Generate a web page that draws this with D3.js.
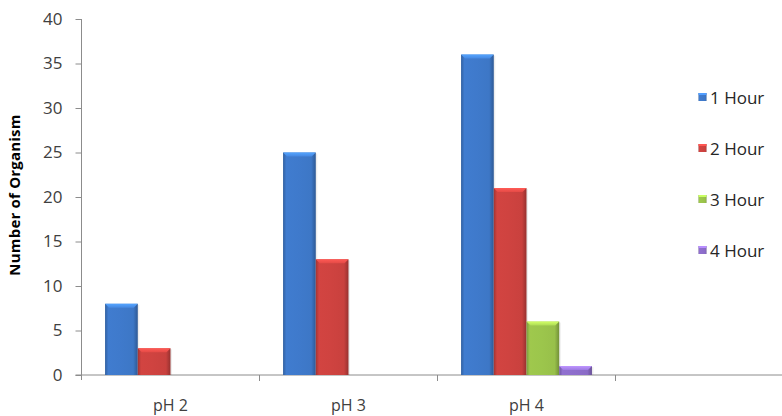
<!DOCTYPE html>
<html>
<head>
<meta charset="utf-8">
<script src="https://cdn.jsdelivr.net/npm/d3@7"></script>
<style>
  html, body { margin: 0; padding: 0; background: #fff; }
  svg { display: block; font-family: "Open Sans", Lato, sans-serif; }
</style>
</head>
<body>
<svg id="chart" width="782" height="416"></svg>
<script>
// Counts of organisms per pH level after each exposure time
const categories = ["pH 2", "pH 3", "pH 4", ""];
const seriesNames = ["1 Hour", "2 Hour", "3 Hour", "4 Hour"];
const hour1 = [8, 25, 36, null];
const hour2 = [3, 13, 21, null];
const hour3 = [0, 0, 6, null];
const hour4 = [0, 0, 1, null];
const yTicks = [0, 5, 10, 15, 20, 25, 30, 35, 40];
const colors = ["#3d77c6", "#c9413e", "#98c04a", "#8a6bc6"];

const series = [hour1, hour2, hour3, hour4];

const svg = d3.select("#chart");
const margin = { left: 81.5, top: 19, bottom: 375 };
const catWidth = 178;

const x = d3.scaleBand()
  .domain(categories)
  .range([margin.left, margin.left + catWidth * categories.length])
  .paddingInner(0)
  .paddingOuter(0);

const xInner = d3.scaleBand()
  .domain(seriesNames)
  .range([0, x.bandwidth()])
  .paddingOuter(0.72)
  .paddingInner(0);

const y = d3.scaleLinear().domain([0, 40]).range([margin.bottom, margin.top]);

// Gradients giving each bar its rounded, bevelled look
const defs = svg.append("defs");
colors.forEach((c, i) => {
  const base = d3.color(c);
  const g = defs.append("linearGradient").attr("id", "bar" + i)
    .attr("x1", "0").attr("x2", "1").attr("y1", "0").attr("y2", "0");
  g.append("stop").attr("offset", "0%").attr("stop-color", base.darker(0.6));
  g.append("stop").attr("offset", "10%").attr("stop-color", base.brighter(0.12));
  g.append("stop").attr("offset", "45%").attr("stop-color", base.brighter(0.08));
  g.append("stop").attr("offset", "86%").attr("stop-color", base);
  g.append("stop").attr("offset", "100%").attr("stop-color", base.darker(0.8));
  const t = defs.append("linearGradient").attr("id", "top" + i)
    .attr("x1", "0").attr("x2", "0").attr("y1", "0").attr("y2", "1");
  t.append("stop").attr("offset", "0%").attr("stop-color", base.brighter(0.9));
  t.append("stop").attr("offset", "100%").attr("stop-color", base.brighter(0.35));
});

// Y axis
const yAxis = d3.axisLeft(y).tickValues(yTicks).tickSize(6).tickPadding(13);
const gy = svg.append("g").attr("transform", `translate(${margin.left},0)`).call(yAxis);
gy.select(".domain").attr("stroke", "#8c8c8c").attr("d", `M0,${margin.bottom + 5}V${margin.top}`);
gy.selectAll(".tick line").attr("stroke", "#8c8c8c");
gy.selectAll(".tick text").attr("fill", "#404040").style("font-size", "17px")
  .style("font-family", "'Open Sans', sans-serif");

// X axis with category boundary ticks
const gx = svg.append("g").attr("transform", `translate(0,${margin.bottom})`);
gx.append("line").attr("x1", margin.left - 6).attr("x2", 782)
  .attr("stroke", "#8c8c8c");
const bounds = categories.map(c => x(c)).concat([x(categories[categories.length - 1]) + x.bandwidth()]);
gx.selectAll("line.bt").data(bounds.slice(1)).join("line").attr("class", "bt")
  .attr("x1", d => d).attr("x2", d => d).attr("y1", 0).attr("y2", 6)
  .attr("stroke", "#8c8c8c");
gx.selectAll("text").data(categories).join("text")
  .attr("x", d => x(d) + x.bandwidth() / 2)
  .attr("y", 36)
  .attr("text-anchor", "middle")
  .attr("fill", "#404040")
  .style("font-size", "16px")
  .text(d => d);

// Y axis title
svg.append("text")
  .attr("transform", `translate(20,195) rotate(-90)`)
  .attr("text-anchor", "middle")
  .attr("font-weight", "bold")
  .attr("fill", "#000")
  .style("font-size", "15px")
  .style("letter-spacing", "0.2px")
  .text("Number of Organism");

// Bars
const bevel = 4;
series.forEach((vals, si) => {
  const g = svg.append("g");
  const items = categories.map((c, ci) => ({ c, v: vals[ci] })).filter(d => d.v > 0);
  items.forEach(d => {
    const x0 = x(d.c) + xInner(seriesNames[si]);
    const w = xInner.bandwidth();
    const y0 = y(d.v);
    const h = y(0) - y0;
    g.append("rect").attr("x", x0 + 1.5).attr("y", y0 + 1).attr("width", w).attr("height", h - 1)
      .attr("fill", "#000").attr("opacity", 0.07);
    g.append("rect").attr("x", x0).attr("y", y0).attr("width", w).attr("height", h)
      .attr("fill", `url(#bar${si})`);
    const b = Math.min(bevel, h / 2);
    g.append("path")
      .attr("d", `M${x0},${y0}H${x0 + w}L${x0 + w - b},${y0 + b}H${x0 + b}Z`)
      .attr("fill", `url(#top${si})`);
  });
});

// Legend
const legend = svg.append("g");
seriesNames.forEach((name, i) => {
  const ly = 97 + i * 51;
  legend.append("rect").attr("x", 698.5).attr("y", ly - 4).attr("width", 8).attr("height", 8)
    .attr("fill", `url(#bar${i})`);
  legend.append("rect").attr("x", 698.5).attr("y", ly - 4).attr("width", 8).attr("height", 2)
    .attr("fill", d3.color(colors[i]).brighter(0.8));
  legend.append("text").attr("x", 710).attr("y", ly + 7)
    .attr("fill", "#262626").style("font-size", "17px").text(name);
});
</script>
</body>
</html>
